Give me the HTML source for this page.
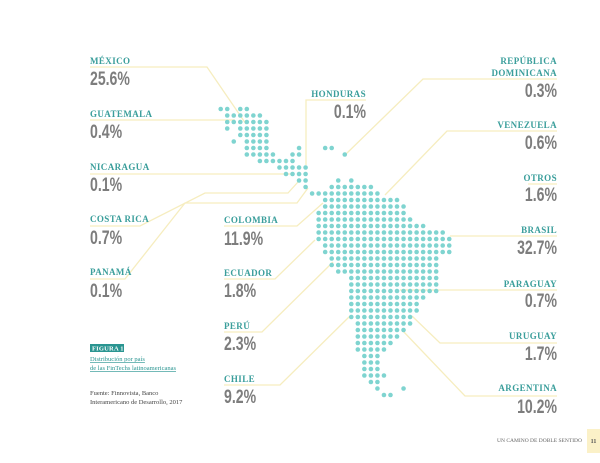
<!DOCTYPE html>
<html><head><meta charset="utf-8"><style>
html,body{margin:0;padding:0;background:#fff;width:600px;height:463px;overflow:hidden}
svg{display:block}
.lab{font-family:"Liberation Serif",serif;font-weight:bold;font-size:9px;fill:#3a9e9b;letter-spacing:0.4px}
.val{font-family:"Liberation Sans Narrow","Liberation Sans",sans-serif;font-weight:bold;font-size:19px;fill:#7d7d7d}
.ln{stroke:#f6edbf;stroke-width:1.3;fill:none}
.sm{font-family:"Liberation Serif",serif;font-size:6.5px}
</style></head><body>
<svg id="map" width="600" height="463" viewBox="0 0 600 463">
<g>
<polyline class="ln" points="90,67 207,67 246,124"/>
<polyline class="ln" points="90,120 235,120"/>
<polyline class="ln" points="90,174 292,174"/>
<polyline class="ln" points="90,226 140,226 205,193 288,193 298,182"/>
<polyline class="ln" points="90,279 125,279 185,203 297,203 308,188"/>
<polyline class="ln" points="366,100 306,100 306,165"/>
<polyline class="ln" points="224,226 297,226 323,203"/>
<polyline class="ln" points="224,279 275,279 315,240"/>
<polyline class="ln" points="224,332 262,332 333,262"/>
<polyline class="ln" points="224,385 280,385 350,316"/>
<polyline class="ln" points="557,79 423,79 345,155"/>
<polyline class="ln" points="557,131 447,131 385,195"/>
<polyline class="ln" points="528,184 557,184"/>
<polyline class="ln" points="450,236 557,236"/>
<polyline class="ln" points="400,290 557,290"/>
<polyline class="ln" points="412,316 440,343 557,343"/>
<polyline class="ln" points="402,330 465,396 557,396"/>
</g>
<g id="dots"></g>
<g>
<text class="lab" x="90" y="64">MÉXICO</text>
<text class="val" x="90" y="85">25.6%</text>
<text class="lab" x="90" y="117">GUATEMALA</text>
<text class="val" x="90" y="138">0.4%</text>
<text class="lab" x="90" y="170">NICARAGUA</text>
<text class="val" x="90" y="191">0.1%</text>
<text class="lab" x="90" y="222">COSTA RICA</text>
<text class="val" x="90" y="244">0.7%</text>
<text class="lab" x="90" y="275">PANAMÁ</text>
<text class="val" x="90" y="297">0.1%</text>
<text class="lab" x="366" y="97" text-anchor="end">HONDURAS</text>
<text class="val" x="366" y="118" text-anchor="end">0.1%</text>
<text class="lab" x="224" y="223">COLOMBIA</text>
<text class="val" x="224" y="245">11.9%</text>
<text class="lab" x="224" y="276">ECUADOR</text>
<text class="val" x="224" y="297">1.8%</text>
<text class="lab" x="224" y="329">PERÚ</text>
<text class="val" x="224" y="350">2.3%</text>
<text class="lab" x="224" y="382">CHILE</text>
<text class="val" x="224" y="403">9.2%</text>
<text class="lab" x="557" y="64" text-anchor="end">REPÚBLICA</text>
<text class="lab" x="557" y="76" text-anchor="end">DOMINICANA</text>
<text class="val" x="557" y="97" text-anchor="end">0.3%</text>
<text class="lab" x="557" y="128" text-anchor="end">VENEZUELA</text>
<text class="val" x="557" y="149" text-anchor="end">0.6%</text>
<text class="lab" x="557" y="181" text-anchor="end">OTROS</text>
<text class="val" x="557" y="201" text-anchor="end">1.6%</text>
<text class="lab" x="557" y="233" text-anchor="end">BRASIL</text>
<text class="val" x="557" y="254" text-anchor="end">32.7%</text>
<text class="lab" x="557" y="287" text-anchor="end">PARAGUAY</text>
<text class="val" x="557" y="307" text-anchor="end">0.7%</text>
<text class="lab" x="557" y="339" text-anchor="end">URUGUAY</text>
<text class="val" x="557" y="360" text-anchor="end">1.7%</text>
<text class="lab" x="557" y="391" text-anchor="end">ARGENTINA</text>
<text class="val" x="557" y="413" text-anchor="end">10.2%</text>
</g>
<g>
<rect x="90" y="344" width="34" height="8" fill="#2a9591"/>
<text x="92" y="350.5" class="sm" fill="#fff" font-weight="bold" font-size="5.8px" letter-spacing="0.2">FIGURA 1</text>
<text x="90" y="361" class="sm" fill="#2a9591" text-decoration="underline">Distribución por país</text>
<text x="90" y="370" class="sm" fill="#2a9591" text-decoration="underline">de las FinTechs latinoamericanas</text>
<text x="90" y="395" class="sm" fill="#444">Fuente: Finnovista, Banco</text>
<text x="90" y="404" class="sm" fill="#444">Interamericano de Desarrollo, 2017</text>
</g>
<text x="582" y="442" text-anchor="end" font-family="Liberation Serif,serif" font-size="5.5px" fill="#666">UN CAMINO DE DOBLE SENTIDO</text>
<rect x="587" y="429" width="13" height="24" fill="#fbf1c8"/>
<text x="593.5" y="443" text-anchor="middle" font-family="Liberation Serif,serif" font-weight="bold" font-size="6px" fill="#555">11</text>
</svg>
<script>
// each row: list of [startCol, endCol] ranges
const rows = [
[[0,1],[3,4]],[[1,6]],[[1,7]],[[1,1],[3,7]],[[3,7]],[[2,2],[4,7]],
[[4,7],[12,12],[16,17]],[[4,8],[11,12],[19,19]],[[6,11]],[[9,13]],[[10,13]],
[[12,13],[18,18],[20,20]],[[13,13],[17,23]],[[14,24]],[[16,27]],[[16,28]],
[[15,28]],[[15,29]],[[15,31]],[[15,34]],[[15,35]],[[16,35]],[[16,35]],
[[17,33]],[[17,33]],[[18,33]],[[20,33]],[[20,33]],[[20,33]],[[20,31]],
[[20,30]],[[20,30]],[[20,29]],[[21,29]],[[21,28]],[[21,27]],[[21,26]],
[[21,25]],[[22,24]],[[22,24]],[[22,24]],[[22,25]],[[23,24]],[[24,24],[28,28]],[[25,26]]
];
const g=document.getElementById('dots');
const NS='http://www.w3.org/2000/svg';
const x0=220.7,y0=109,step=6.53;
rows.forEach((r,ri)=>{r.forEach(([a,b])=>{for(let c=a;c<=b;c++){
 const d=document.createElementNS(NS,'circle');
 d.setAttribute('cx',x0+c*step);d.setAttribute('cy',y0+ri*6.5);
 d.setAttribute('r',2.3);d.setAttribute('fill','#7fd4d0');
 
 
 g.appendChild(d);}});});
// condense value numbers
document.querySelectorAll('.val').forEach(t=>{
 const w=t.getComputedTextLength();
 t.setAttribute('textLength',(w*0.74).toFixed(1));
 t.setAttribute('lengthAdjust','spacingAndGlyphs');
});
</script>
</body></html>
